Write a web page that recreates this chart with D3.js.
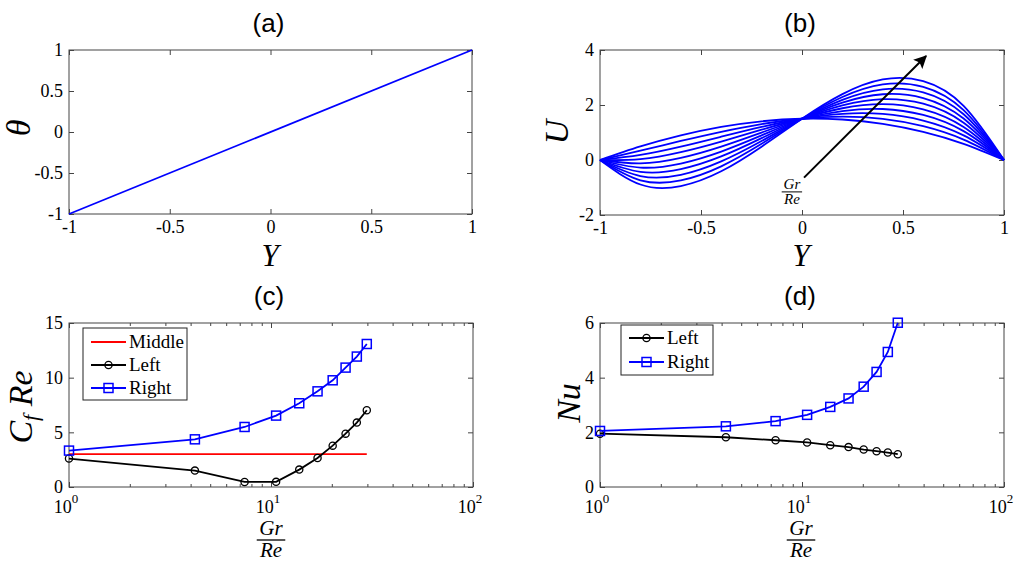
<!DOCTYPE html>
<html><head><meta charset="utf-8">
<script src="https://cdn.jsdelivr.net/npm/d3@7"></script>
<style>
body{margin:0;background:#fff;}
svg{display:block;}
</style></head>
<body><svg id="c" width="1024" height="570"></svg>
<script>
// ---------- data ----------
const titles = ["(a)", "(b)", "(c)", "(d)"];
const linTicks = [-1, -0.5, 0, 0.5, 1];
const thetaTicks = [-1, -0.5, 0, 0.5, 1];
const uTicks = [-2, 0, 2, 4];
const cfTicks = [0, 5, 10, 15];
const nuTicks = [0, 2, 4, 6];
const logMajor = [1, 10, 100];
const logMinor = [2,3,4,5,6,7,8,9,20,30,40,50,60,70,80,90];

const yA = [-1, 1];
const thetaA = [-1, 1];

const yB = [-1, -0.8, -0.6, -0.4, -0.2, 0, 0.2, 0.4, 0.6, 0.8, 1];
const uProfiles = [
  [0, 0.492, 0.896, 1.204, 1.408, 1.5, 1.472, 1.316, 1.024, 0.588, 0],
  [0, 0.338, 0.691, 1.025, 1.306, 1.5, 1.574, 1.495, 1.229, 0.742, 0],
  [0, 0.185, 0.486, 0.846, 1.203, 1.5, 1.677, 1.674, 1.434, 0.895, 0],
  [0, 0.031, 0.282, 0.666, 1.101, 1.5, 1.779, 1.854, 1.638, 1.049, 0],
  [0, -0.122, 0.077, 0.487, 0.998, 1.5, 1.882, 2.033, 1.843, 1.202, 0],
  [0, -0.276, -0.128, 0.308, 0.896, 1.5, 1.984, 2.212, 2.048, 1.356, 0],
  [0, -0.430, -0.333, 0.129, 0.794, 1.5, 2.086, 2.391, 2.253, 1.510, 0],
  [0, -0.583, -0.538, -0.050, 0.691, 1.5, 2.189, 2.570, 2.458, 1.663, 0],
  [0, -0.737, -0.742, -0.230, 0.589, 1.5, 2.291, 2.750, 2.662, 1.817, 0],
  [0, -0.890, -0.947, -0.409, 0.486, 1.5, 2.394, 2.929, 2.867, 1.970, 0]
];
const arrowFrom = [0.01, -0.64];
const arrowTo = [0.614, 3.78];
const arrowLabelAt = [-0.05, -1.16];

const grRe = [1, 4.2, 7.4, 10.6, 13.8, 17, 20.2, 23.4, 26.6, 29.8];
const cfMiddleX = [1, 29.8];
const cfMiddle = [3, 3];
const cfLeft = [2.6, 1.5, 0.46, 0.47, 1.59, 2.65, 3.78, 4.88, 5.89, 7.02];
const cfRight = [3.33, 4.36, 5.49, 6.53, 7.66, 8.75, 9.76, 10.92, 11.93, 13.08];
const nuLeft = [1.95, 1.82, 1.71, 1.63, 1.53, 1.46, 1.37, 1.31, 1.26, 1.20];
const nuRight = [2.05, 2.22, 2.41, 2.64, 2.93, 3.24, 3.67, 4.21, 4.94, 6.01];

// ---------- drawing ----------
const svg = d3.select("#c");
svg.append("rect").attr("width",1024).attr("height",570).attr("fill","#fff");
const AX = "#444";
const SERIF = "'Liberation Serif', 'Times New Roman', Times, serif";
const SANS = "'Liberation Sans', Arial, sans-serif";

function serif(sel, size, italic){
  sel.attr("font-family", SERIF).attr("font-size", size)
     .style("font-family", SERIF).style("font-size", size+"px");
  if(italic) sel.attr("font-style","italic").style("font-style","italic");
  return sel;
}

const boxes = {
  a:{x0:69,x1:472,y0:50,y1:214},
  b:{x0:600,x1:1004,y0:50,y1:215},
  c:{x0:69,x1:473,y0:323,y1:487},
  d:{x0:600,x1:1004,y0:323,y1:487}
};

function frame(b, x, y, xt, yt, isLog){
  const g = svg.append("g");
  const axes = [];
  axes.push(g.append("g").attr("transform",`translate(0,${b.y1})`)
    .call(d3.axisBottom(x).tickValues(isLog?logMajor:xt).tickSize(-5).tickPadding(6)
      .tickFormat(isLog? ()=>"" : d=>String(d))));
  axes.push(g.append("g").attr("transform",`translate(0,${b.y0})`)
    .call(d3.axisTop(x).tickValues(isLog?logMajor:xt).tickSize(-5).tickFormat(()=>"")));
  if(isLog){
    g.append("g").attr("transform",`translate(0,${b.y1})`)
      .call(d3.axisBottom(x).tickValues(logMinor).tickSize(-3).tickFormat(()=>""));
    g.append("g").attr("transform",`translate(0,${b.y0})`)
      .call(d3.axisTop(x).tickValues(logMinor).tickSize(-3).tickFormat(()=>""));
    logMajor.forEach((v,i)=>{
      const t = g.append("text").attr("x",x(v)-3).attr("y",b.y1+26)
        .attr("text-anchor","middle").text("10");
      serif(t,18,false);
      t.append("tspan").attr("dy",-10).attr("font-size",13).style("font-size","13px").text(String(i));
    });
  }
  axes.push(g.append("g").attr("transform",`translate(${b.x0},0)`)
    .call(d3.axisLeft(y).tickValues(yt).tickSize(-5).tickPadding(6).tickFormat(d=>String(d))));
  axes.push(g.append("g").attr("transform",`translate(${b.x1},0)`)
    .call(d3.axisRight(y).tickValues(yt).tickSize(-5).tickFormat(()=>"")));
  axes.forEach(a=>a.attr("font-family",SERIF).attr("font-size",18));
  g.selectAll(".domain").remove();
  g.selectAll(".tick line").attr("stroke",AX);
  serif(g.selectAll(".tick text"),18,false).attr("fill","#000");
  g.append("rect").attr("x",b.x0).attr("y",b.y0).attr("width",b.x1-b.x0).attr("height",b.y1-b.y0)
    .attr("fill","none").attr("stroke",AX).attr("stroke-width",1);
  return g;
}

function title(b, txt){
  svg.append("text").attr("x",(b.x0+b.x1)/2-2).attr("y",b.y0-18).attr("text-anchor","middle")
    .attr("font-family",SANS).attr("font-size",26).text(txt);
}

function fracLabel(cx, cy, size){
  const g = svg.append("g");
  serif(g.append("text").attr("x",cx).attr("y",cy-size*0.22).attr("text-anchor","middle").text("Gr"),size,true);
  g.append("line").attr("x1",cx-size*0.68).attr("x2",cx+size*0.68).attr("y1",cy).attr("y2",cy)
    .attr("stroke","#000").attr("stroke-width",Math.max(1,size/16));
  serif(g.append("text").attr("x",cx).attr("y",cy+size*0.82).attr("text-anchor","middle").text("Re"),size,true);
}

function ylab(x, y, build){
  const t = svg.append("text").attr("transform",`translate(${x},${y}) rotate(-90)`)
    .attr("text-anchor","middle");
  serif(t,34,true);
  build(t);
}
function xlab(x, y, txt){
  serif(svg.append("text").attr("x",x).attr("y",y).attr("text-anchor","middle").text(txt),31,true);
}

// ----- panel a -----
{
  const b = boxes.a;
  const x = d3.scaleLinear().domain([-1,1]).range([b.x0,b.x1]);
  const y = d3.scaleLinear().domain([-1,1]).range([b.y1,b.y0]);
  frame(b,x,y,linTicks,thetaTicks,false);
  svg.append("path").datum(d3.zip(yA,thetaA))
    .attr("d",d3.line().x(d=>x(d[0])).y(d=>y(d[1])))
    .attr("fill","none").attr("stroke","#0000ff").attr("stroke-width",1.8);
  title(b,titles[0]);
  ylab(30,128,t=>t.text("θ"));
  xlab(270,266,"Y");
}

// ----- panel b -----
{
  const b = boxes.b;
  const x = d3.scaleLinear().domain([-1,1]).range([b.x0,b.x1]);
  const y = d3.scaleLinear().domain([-2,4]).range([b.y1,b.y0]);
  frame(b,x,y,linTicks,uTicks,false);
  const line = d3.line().x(d=>x(d[0])).y(d=>y(d[1])).curve(d3.curveNatural);
  uProfiles.forEach(u=>{
    svg.append("path").datum(d3.zip(yB,u)).attr("d",line)
      .attr("fill","none").attr("stroke","#0000ff").attr("stroke-width",1.8);
  });
  const defs = svg.append("defs");
  defs.append("marker").attr("id","ah").attr("viewBox","0 0 10 10").attr("refX",9).attr("refY",5)
    .attr("markerWidth",6.5).attr("markerHeight",6.5).attr("orient","auto").attr("markerUnits","strokeWidth")
    .append("path").attr("d","M0,0 L10,5 L0,10 L2,5 Z").attr("fill","#000");
  svg.append("line").attr("x1",x(arrowFrom[0])).attr("y1",y(arrowFrom[1]))
    .attr("x2",x(arrowTo[0])).attr("y2",y(arrowTo[1]))
    .attr("stroke","#000").attr("stroke-width",2).attr("marker-end","url(#ah)");
  fracLabel(x(arrowLabelAt[0]), y(arrowLabelAt[1]), 15);
  title(b,titles[1]);
  ylab(568,132,t=>t.text("U"));
  xlab(801,266,"Y");
}

function markerSeries(x, y, xs, ys, color, shape){
  svg.append("path").datum(d3.zip(xs,ys))
    .attr("d",d3.line().x(d=>x(d[0])).y(d=>y(d[1])))
    .attr("fill","none").attr("stroke",color).attr("stroke-width",1.8);
  const g = svg.append("g");
  d3.zip(xs,ys).forEach(d=>{
    if(shape==="circle"){
      g.append("circle").attr("cx",x(d[0])).attr("cy",y(d[1])).attr("r",3.6)
        .attr("fill","none").attr("stroke",color).attr("stroke-width",1.3);
    } else {
      g.append("rect").attr("x",x(d[0])-4.5).attr("y",y(d[1])-4.5).attr("width",9).attr("height",9)
        .attr("fill","none").attr("stroke",color).attr("stroke-width",1.5);
    }
  });
}

function legend(x0,y0,w,h,items){
  svg.append("rect").attr("x",x0).attr("y",y0).attr("width",w).attr("height",h)
    .attr("fill","#fff").attr("stroke","#222").attr("stroke-width",1);
  items.forEach(it=>{
    svg.append("line").attr("x1",x0+8).attr("x2",x0+43).attr("y1",it.y).attr("y2",it.y)
      .attr("stroke",it.color).attr("stroke-width",1.8);
    const mx = x0+25.5;
    if(it.shape==="circle") svg.append("circle").attr("cx",mx).attr("cy",it.y).attr("r",3.6)
      .attr("fill","none").attr("stroke",it.color).attr("stroke-width",1.3);
    if(it.shape==="square") svg.append("rect").attr("x",mx-4.5).attr("y",it.y-4.5).attr("width",9).attr("height",9)
      .attr("fill","none").attr("stroke",it.color).attr("stroke-width",1.5);
    serif(svg.append("text").attr("x",x0+46).attr("y",it.y+6).text(it.label),19,false);
  });
}

// ----- panel c -----
{
  const b = boxes.c;
  const x = d3.scaleLog().domain([1,100]).range([b.x0,b.x1]);
  const y = d3.scaleLinear().domain([0,15]).range([b.y1,b.y0]);
  frame(b,x,y,null,cfTicks,true);
  svg.append("path").datum(d3.zip(cfMiddleX,cfMiddle))
    .attr("d",d3.line().x(d=>x(d[0])).y(d=>y(d[1])))
    .attr("fill","none").attr("stroke","#ff0000").attr("stroke-width",1.8);
  markerSeries(x,y,grRe,cfLeft,"#000","circle");
  markerSeries(x,y,grRe,cfRight,"#0000ff","square");
  legend(83,328,104,72,[
    {label:"Middle",color:"#ff0000",shape:null,y:342},
    {label:"Left",color:"#000",shape:"circle",y:365},
    {label:"Right",color:"#0000ff",shape:"square",y:388}
  ]);
  title(b,titles[2]);
  ylab(32,407,t=>{
    t.append("tspan").text("C");
    t.append("tspan").attr("font-size",22).style("font-size","22px").attr("dy",6).text("f");
    t.append("tspan").attr("dy",-6).text(" Re");
  });
  fracLabel(271,540,21);
}

// ----- panel d -----
{
  const b = boxes.d;
  const x = d3.scaleLog().domain([1,100]).range([b.x0,b.x1]);
  const y = d3.scaleLinear().domain([0,6]).range([b.y1,b.y0]);
  frame(b,x,y,null,nuTicks,true);
  markerSeries(x,y,grRe,nuLeft,"#000","circle");
  markerSeries(x,y,grRe,nuRight,"#0000ff","square");
  legend(621,325,92,50,[
    {label:"Left",color:"#000",shape:"circle",y:338},
    {label:"Right",color:"#0000ff",shape:"square",y:362}
  ]);
  title(b,titles[3]);
  ylab(580,403,t=>t.text("Nu"));
  fracLabel(801,540,21);
}
</script></body></html>
